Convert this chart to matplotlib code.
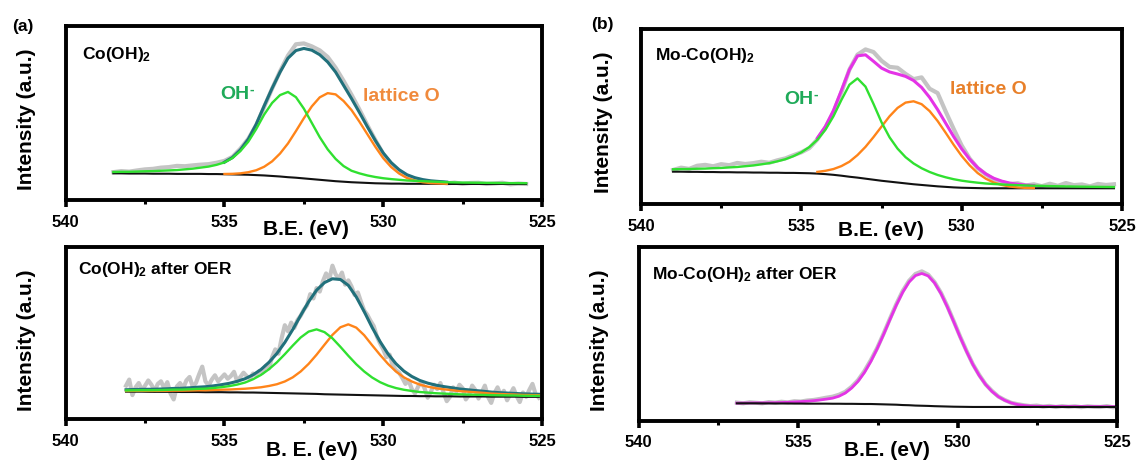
import numpy as np
import matplotlib.pyplot as plt

plt.rcParams['font.family'] = ['Liberation Sans', 'DejaVu Sans']
plt.rcParams['font.weight'] = 'bold'
plt.rcParams['mathtext.fontset'] = 'custom'
plt.rcParams['mathtext.rm'] = 'Liberation Sans:bold'
plt.rcParams['mathtext.bf'] = 'Liberation Sans:bold'
plt.rcParams['mathtext.it'] = 'Liberation Sans:bold'
plt.rcParams['mathtext.default'] = 'bf'

# O 1s spectra, intensity in a.u. (each panel on its own 0-100 scale)
tick_pos = [540, 535, 530, 525]
tick_labels = ['540', '535', '530', '525']
minor_pos = [537.5, 532.5, 527.5]

# (a) Co(OH)2 -- fit grid 538.5 -> 525.5 eV (0.25 eV)
range_a = (538.5, 525.5)
raw_a = [16.0, 16.6, 16.3, 17.0, 17.6, 17.9, 18.6, 18.9, 19.6, 19.4, 19.9, 20.3, 20.6, 21.4, 22.5,
         24.8, 29.5, 35.2, 43.0, 53.5, 64.0, 74.0, 83.0, 89.5, 90.0, 88.3, 86.0, 82.2, 76.0, 68.5,
         60.5, 52.0, 43.0, 34.5, 26.5, 20.5, 16.3,
         13.6, 12.2, 11.0, 10.4, 10.2, 9.6, 10.0, 9.3, 9.8, 9.9, 9.2, 9.5, 9.9, 9.0, 9.4, 9.2]
base_a = [15.3, 15.3, 15.2, 15.2, 15.2, 15.1, 15.1, 15.1, 15.0, 15.0, 15.0, 15.0, 14.9, 14.9, 14.8,
          14.7, 14.6, 14.5, 14.3, 14.1, 13.8, 13.5, 13.1, 12.8, 12.4, 12.0, 11.6, 11.2, 10.8, 10.5,
          10.2, 10.0, 9.8, 9.6, 9.5, 9.4, 9.4,
          9.3, 9.3, 9.3, 9.3, 9.3, 9.2, 9.2, 9.2, 9.2, 9.2, 9.2, 9.2, 9.2, 9.2, 9.2, 9.2]
# peak heights above the background
oh_a = [0.8, 0.9, 1.0, 1.15, 1.3, 1.5, 1.7, 1.9, 2.2, 2.6, 3.0, 3.6, 4.3, 5.3, 6.8,
        9.4, 13.5, 19.0, 26.5, 35.0, 42.0, 46.8, 49.0, 46.3, 40.1, 32.3, 24.5, 17.9, 12.8, 9.0,
        6.6, 5.3, 4.3, 3.6, 3.0, 2.6, 2.2,
        1.9, 1.7, 1.5, 1.3, 1.15, 1.0, 0.9, 0.8, 0.75, 0.7, 0.65, 0.6, 0.55, 0.5, 0.5, 0.45]
lat_range_a = (535.0, 528.0)
lat_a = [0.14, 0.33, 0.71, 1.46, 2.8, 5.0, 8.4, 13.2, 19.4, 26.8, 34.6, 41.8, 47.4, 50.2, 49.9,
         46.4, 41.5, 35.0, 28.0, 21.0, 14.5, 9.5, 5.8, 3.3, 1.8, 0.9, 0.4, 0.2, 0.1]

# (b) Mo-Co(OH)2 -- fit grid 539.0 -> 525.25 eV (0.25 eV)
range_b = (539.0, 525.25)
raw_b = [19.5, 20.8, 20.1, 21.9, 22.4, 21.6, 22.8, 22.2, 23.5, 22.9,
         23.4, 24.2, 23.6, 25.0, 26.1, 27.9, 29.6, 32.0, 37.0, 43.8,
         52.5, 64.0, 77.0, 85.5, 88.5, 87.0, 82.0, 78.5, 78.0, 74.5,
         71.5, 72.5, 66.0, 63.5, 53.0, 43.0, 33.5, 26.0, 20.5, 17.0,
         14.0, 12.5, 11.4, 11.9, 10.6, 11.3, 10.2, 11.6, 10.4, 12.0,
         10.8, 11.2, 10.1, 11.5, 10.9, 11.3]
base_b = [18.5, 18.5, 18.4, 18.4, 18.3, 18.3, 18.2, 18.2, 18.1, 18.1,
          18.0, 18.0, 17.9, 17.9, 17.8, 17.8, 17.7, 17.6, 17.4, 17.1,
          16.7, 16.2, 15.6, 15.1, 14.5, 13.9, 13.3, 12.8, 12.3, 11.8,
          11.3, 10.9, 10.5, 10.1, 9.8, 9.5, 9.3, 9.2, 9.1, 9.0,
          9.0, 9.0, 9.0, 9.0, 9.0, 9.0, 9.0, 9.0, 9.0, 9.0,
          9.0, 9.0, 9.0, 9.0, 9.0, 9.0]
oh_b = [1.36, 1.48, 1.62, 1.78, 1.97, 2.19, 2.44, 2.74, 3.09, 3.52,
        4.05, 4.69, 5.49, 6.52, 7.83, 9.57, 11.9, 15.0, 19.4, 25.4,
        33.5, 43.4, 52.7, 56.8, 52.7, 43.4, 33.5, 25.4, 19.4, 15.0,
        11.9, 9.57, 7.83, 6.52, 5.49, 4.69, 4.05, 3.52, 3.09, 2.74,
        2.44, 2.19, 1.97, 1.78, 1.62, 1.48, 1.36, 1.25, 1.15, 1.07,
        0.99, 0.92, 0.86, 0.81, 0.76, 0.71]
lat_range_b = (534.5, 527.75)
lat_b = [1.0, 1.9, 3.3, 5.5, 8.6, 12.9, 18.2, 24.4, 31.0, 37.4, 42.7, 46.25, 47.5, 46.25,
         42.7, 37.4, 31.0, 24.4, 18.2, 12.9, 8.6, 5.5, 3.3, 1.9, 1.0, 0.5, 0.2, 0.1]

# (a, lower) Co(OH)2 after OER -- fit grid 538.1 -> 525.1 eV, raw data every 0.1 eV
range_c = (538.1, 525.1)
raw_c = [19.5, 23.0, 14.0, 18.5, 21.0, 17.0, 19.5, 22.5, 20.0, 16.5,
         20.5, 22.0, 18.0, 21.5, 15.0, 11.5, 19.0, 21.0, 18.0, 22.5,
         24.5, 19.0, 21.0, 26.0, 30.5, 22.0, 19.5, 23.0, 25.5, 22.0,
         24.0, 26.0, 23.5, 25.0, 27.5, 22.0, 24.5, 27.0, 25.0, 23.5,
         26.5, 25.5, 28.0, 27.0, 31.0, 29.5, 36.0, 40.5, 38.0, 47.0,
         54.5, 51.0, 56.0, 53.0, 57.5, 60.0, 63.5, 66.0, 72.5, 70.0,
         76.0, 74.0, 80.0, 84.5, 81.0, 89.0, 84.0, 81.5, 85.0, 78.0,
         80.5, 77.0, 72.0, 73.5, 68.0, 63.0, 60.5, 57.0, 54.0, 48.0,
         44.0, 40.5, 36.0, 37.5, 31.0, 28.5, 27.0, 24.0, 20.5, 22.5,
         17.5, 15.0, 19.0, 21.5, 18.0, 12.5, 16.0, 20.0, 17.5, 21.0,
         15.5, 10.5, 13.0, 18.5, 16.0, 20.0, 18.0, 11.5, 14.0, 19.5,
         17.0, 12.0, 15.5, 19.5, 13.0, 9.5, 15.0, 18.5, 14.0, 16.5,
         11.0, 14.5, 18.0, 13.5, 10.0, 15.5, 13.0, 17.0, 20.5, 14.5,
         12.5]
base_c = [16.0, 16.0, 16.0, 15.9, 15.9, 15.9, 15.9, 15.8, 15.8, 15.8,
          15.7, 15.7, 15.7, 15.6, 15.6, 15.5, 15.5, 15.4, 15.3, 15.2,
          15.1, 15.0, 14.9, 14.8, 14.7, 14.5, 14.4, 14.3, 14.2, 14.1,
          14.0, 13.9, 13.8, 13.7, 13.6, 13.5, 13.5, 13.4, 13.4, 13.3,
          13.3, 13.3, 13.2, 13.2, 13.2, 13.2, 13.1, 13.1, 13.1, 13.1,
          13.0, 13.0, 13.0]
oh_c = [0.71, 0.79, 0.86, 0.94, 1.0, 1.12, 1.27, 1.38, 1.57, 1.8,
        2.05, 2.4, 2.9, 3.6, 4.5, 5.8, 7.7, 10.3, 13.7, 17.8,
        22.6, 27.7, 32.5, 36.0, 37.4, 36.0, 32.5, 27.7, 22.6, 17.8,
        13.7, 10.3, 7.7, 5.8, 4.5, 3.6, 2.9, 2.4, 2.05, 1.8,
        1.57, 1.38, 1.27, 1.12, 1.0, 0.94, 0.86, 0.79, 0.71, 0.67,
        0.63, 0.59, 0.55]
lat_c = [0.41, 0.45, 0.49, 0.53, 0.57, 0.61, 0.69, 0.78, 0.86, 0.98,
         1.1, 1.26, 1.43, 1.63, 1.88, 2.2, 2.57, 3.14, 4.0, 5.1,
         6.8, 9.3, 12.8, 17.3, 22.7, 28.7, 34.5, 39.0, 40.8, 39.0,
         34.7, 29.0, 23.5, 18.4, 14.1, 10.8, 8.4, 6.7, 5.5, 4.7,
         4.1, 3.6, 3.1, 2.8, 2.45, 2.1, 1.8, 1.55, 1.39, 1.22,
         1.1, 1.02, 0.94]

# (b, lower) Mo-Co(OH)2 after OER -- single component, grid 536.92 -> 524.92 eV (0.2 eV)
range_d = (536.92, 524.92)
raw_d = [10.4, 10.0, 10.6, 10.3, 10.0, 10.7, 10.4, 10.9, 10.5, 11.2,
         11.0, 11.6, 11.9, 12.5, 13.2, 13.8, 14.9, 16.6, 19.5, 23.3,
         28.5, 34.8, 41.8, 50.0, 58.6, 67.0, 74.5, 80.4, 84.3, 85.8,
         83.9, 79.6, 73.5, 65.8, 57.2, 48.4, 40.2, 32.5, 26.3, 20.9,
         17.1, 13.9, 11.9, 10.3, 9.5, 8.9, 8.4, 8.7, 8.1, 8.5,
         7.9, 8.4, 8.0, 8.3, 7.8, 8.3, 8.0, 7.9, 8.4, 7.7, 8.1]
base_d = [10.0, 10.0, 10.0, 10.0, 9.95, 9.95, 9.9, 9.9, 9.9, 9.85,
          9.85, 9.8, 9.8, 9.8, 9.8, 9.75, 9.75, 9.7, 9.7, 9.65,
          9.6, 9.6, 9.5, 9.4, 9.3, 9.2, 9.0, 8.9, 8.7, 8.6,
          8.5, 8.35, 8.25, 8.15, 8.05, 8.0, 7.95, 7.9, 7.9, 7.9,
          7.9, 7.9, 7.9, 7.9, 7.9, 7.9, 7.9, 7.9, 7.9, 7.9,
          7.9, 7.9, 7.9, 7.9, 7.9, 7.9, 7.9, 7.9, 7.9, 7.9, 7.9]
peak_d = [0.1, 0.15, 0.2, 0.25, 0.3, 0.35, 0.45, 0.55, 0.7, 0.9,
          1.1, 1.4, 1.7, 2.1, 2.6, 3.2, 4.3, 6.2, 9.1, 13.0,
          18.1, 24.4, 31.9, 40.1, 48.8, 57.2, 64.8, 70.8, 74.7, 76.0,
          74.7, 70.8, 64.8, 57.2, 48.8, 40.1, 31.9, 24.4, 18.05, 12.9,
          8.9, 5.9, 3.8, 2.34, 1.4, 0.85, 0.55, 0.42, 0.36, 0.33,
          0.3, 0.28, 0.26, 0.25, 0.24, 0.22, 0.21, 0.2, 0.19, 0.18, 0.17]

RAW = '#c4c4c4'
GREEN = '#30e030'
ORANGE = '#ff8419'
TEAL = '#21707b'
MAGENTA = '#e433e6'
TXT_GREEN = '#1faa59'
TXT_ORANGE = '#f08a3c'


def grid(rng, values):
    return np.linspace(rng[0], rng[1], len(values))


def style_axes(ax, xlabel, xlab_xy, ylab_xy):
    ax.set_xlim(540, 525)
    ax.set_ylim(0, 100)
    ax.set_yticks([])
    ax.set_xticks(tick_pos)
    ax.set_xticklabels(tick_labels)
    ax.set_xticks(minor_pos, minor=True)
    ax.tick_params(axis='x', which='major', direction='out', length=5, width=2.6,
                   labelsize=12, pad=5.5)
    ax.tick_params(axis='x', which='minor', direction='out', length=3, width=2.2)
    for sp in ax.spines.values():
        sp.set_linewidth(2.8)
    ax.set_xlabel(xlabel, fontsize=15, fontweight='bold')
    ax.set_ylabel('Intensity (a.u.)', fontsize=15, fontweight='bold')
    ax.xaxis.set_label_coords(*xlab_xy)
    ax.yaxis.set_label_coords(*ylab_xy)
    ax.xaxis.label.set_va('center')
    ax.yaxis.label.set_va('center')


def oh_label(ax, x, y):
    # "OH" with a short raised dash
    t = ax.text(x, y, 'OH', transform=ax.transAxes, fontsize=14,
                fontweight='bold', color=TXT_GREEN, va='baseline')
    ax.annotate('-', xy=(1.0, 0.55), xycoords=t, xytext=(0.5, 0),
                textcoords='offset points', fontsize=10, fontweight='bold',
                color=TXT_GREEN, ha='left', va='baseline')


def fit_panel(ax, rng, raw, base, oh, lat, lat_rng, env_color, raw_rng=None):
    e = grid(rng, base)
    base = np.array(base)
    oh_line = base + np.array(oh)
    e_lat = grid(lat_rng, lat)
    i0 = int(np.argmin(np.abs(e - e_lat[0])))
    lat_full = np.zeros_like(base)
    lat_full[i0:i0 + len(lat)] = lat
    env = base + np.array(oh) + lat_full
    sl = slice(i0, i0 + len(lat))
    e_raw = grid(raw_rng if raw_rng else rng, raw)
    ax.plot(e_raw, raw, color=RAW, lw=3.0, zorder=1)
    ax.plot(e[sl], env[sl], color=env_color, lw=2.2, zorder=2)
    ax.plot(e, base, color='#111111', lw=1.5, zorder=3)
    ax.plot(e_lat, base[sl] + np.array(lat), color=ORANGE, lw=1.7, zorder=4)
    ax.plot(e, oh_line, color=GREEN, lw=1.7, zorder=5)


fig = plt.figure(figsize=(11.37, 4.61), dpi=100)

ax_a = fig.add_axes([0.0578, 0.5662, 0.4189, 0.3774])
ax_b = fig.add_axes([0.5638, 0.5575, 0.4230, 0.3789])
ax_c = fig.add_axes([0.0578, 0.0905, 0.4189, 0.3744])
ax_d = fig.add_axes([0.5617, 0.0874, 0.4207, 0.3775])

# (a) Co(OH)2
fit_panel(ax_a, range_a, raw_a, base_a, oh_a, lat_a, lat_range_a, TEAL)
style_axes(ax_a, 'B.E. (eV)', (0.504, -0.168), (-0.082, 0.463))
ax_a.text(0.034, 0.809, 'Co(OH)$_2$', transform=ax_a.transAxes, fontsize=12.5,
          fontweight='bold', va='baseline')
oh_label(ax_a, 0.324, 0.580)
ax_a.text(0.6245, 0.569, 'lattice O', transform=ax_a.transAxes, fontsize=14,
          fontweight='bold', color=TXT_ORANGE, va='baseline')

# (b) Mo-Co(OH)2
fit_panel(ax_b, range_b, raw_b, base_b, oh_b, lat_b, lat_range_b, MAGENTA)
style_axes(ax_b, 'B.E. (eV)', (0.499, -0.153), (-0.079, 0.466))
ax_b.text(0.0297, 0.824, 'Mo-Co(OH)$_2$', transform=ax_b.transAxes, fontsize=12.5,
          fontweight='bold', va='baseline')
oh_label(ax_b, 0.297, 0.572)
ax_b.text(0.643, 0.63, 'lattice O', transform=ax_b.transAxes, fontsize=14,
          fontweight='bold', color='#e8802a', va='baseline')

# Co(OH)2 after OER: orange and envelope run over the whole range
e_c = grid(range_c, base_c)
base_c_arr = np.array(base_c)
env_c = base_c_arr + np.array(oh_c) + np.array(lat_c)
ax_c.plot(grid(range_c, raw_c), raw_c, color=RAW, lw=3.0, zorder=1)
ax_c.plot(e_c, env_c, color=TEAL, lw=2.2, zorder=2)
ax_c.plot(e_c, base_c_arr, color='#111111', lw=1.5, zorder=3)
ax_c.plot(e_c, base_c_arr + np.array(lat_c), color=ORANGE, lw=1.7, zorder=4)
ax_c.plot(e_c, base_c_arr + np.array(oh_c), color=GREEN, lw=1.7, zorder=5)
style_axes(ax_c, 'B. E. (eV)', (0.517, -0.178), (-0.082, 0.459))
ax_c.text(0.026, 0.842, 'Co(OH)$_2$ after OER', transform=ax_c.transAxes, fontsize=12.5,
          fontweight='bold', va='baseline')

# Mo-Co(OH)2 after OER
e_d = grid(range_d, base_d)
ax_d.plot(grid(range_d, raw_d), raw_d, color=RAW, lw=3.0, zorder=1)
ax_d.plot(e_d, np.array(base_d) + np.array(peak_d), color=MAGENTA, lw=2.0, zorder=2)
ax_d.plot(e_d, base_d, color='#111111', lw=1.5, zorder=3)
style_axes(ax_d, 'B.E. (eV)', (0.52, -0.173), (-0.082, 0.46))
ax_d.text(0.028, 0.813, 'Mo-Co(OH)$_2$ after OER', transform=ax_d.transAxes, fontsize=12.5,
          fontweight='bold', va='baseline')

fig.text(0.0103, 0.9436, '(a)', fontsize=12.5, fontweight='bold', va='center')
fig.text(0.5198, 0.9458, '(b)', fontsize=12.5, fontweight='bold', va='center')

fig.savefig('out.png', dpi=100)
